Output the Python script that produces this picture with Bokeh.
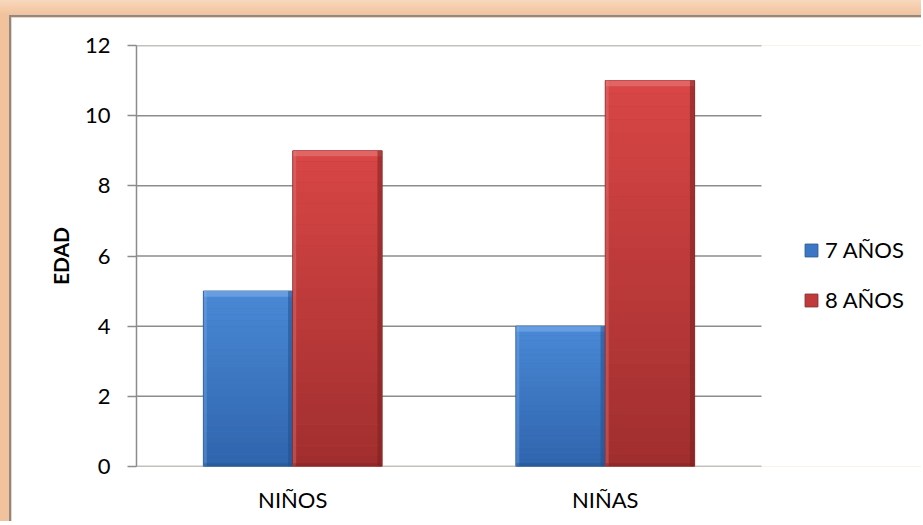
from bokeh.plotting import figure
from bokeh.layouts import column
from bokeh.models import (Range1d, FixedTicker, Legend, LegendItem, ColumnDataSource)
from bokeh.embed import file_html
from bokeh.resources import INLINE

# ---- data ----
categories = ["NIÑOS", "NIÑAS"]
series_names = ["7 AÑOS", "8 AÑOS"]
edad_7 = [5, 4]
edad_8 = [9, 11]
y_ticks = [0, 2, 4, 6, 8, 10, 12]
y_label = "EDAD"

FONT = "Lato"
GRID = "#8c8c8c"

FIG_W, FIG_H = 912, 506
LEFT, TOP = 125, 28
FRAME_H = 421
BOTTOM = FIG_H - TOP - FRAME_H
CAT_PX = 312.5                      # pixel width of one category slot
x_end = (FIG_W - LEFT) / CAT_PX      # frame extends to the right edge (legend area)

cat_pos = [i + 0.5 for i in range(len(categories))]

p = figure(x_range=Range1d(0, x_end), y_range=Range1d(0, 12),
           width=FIG_W, height=FIG_H,
           output_backend="svg", toolbar_location=None,
           min_border_left=LEFT, min_border_right=0,
           min_border_top=TOP, min_border_bottom=BOTTOM)
p.outline_line_color = None
p.background_fill_color = "#ffffff"
p.border_fill_color = "#ffffff"
p.styles = {"border-top": "2px solid #8a8a8a", "border-left": "2px solid #8a8a8a"}

# grid lines drawn only across the category area
p.xgrid.visible = False
p.ygrid.visible = False
p.segment(x0=[0] * len(y_ticks), x1=[len(categories)] * len(y_ticks),
          y0=y_ticks, y1=y_ticks, line_color=GRID, line_width=1.5)

# y axis
p.yaxis.ticker = FixedTicker(ticks=y_ticks)
p.yaxis.axis_line_color = GRID
p.yaxis.axis_line_width = 1.5
p.yaxis.major_tick_line_color = GRID
p.yaxis.major_tick_line_width = 1.5
p.yaxis.major_tick_out = 9
p.yaxis.major_tick_in = 0
p.yaxis.minor_tick_line_color = None
p.yaxis.major_label_text_font = FONT
p.yaxis.major_label_text_font_size = "22px"
p.yaxis.major_label_text_color = "black"
p.yaxis.major_label_standoff = 17
p.yaxis.axis_label = y_label
p.yaxis.axis_label_text_font = FONT
p.yaxis.axis_label_text_font_size = "21px"
p.yaxis.axis_label_text_font_style = "bold"
p.yaxis.axis_label_text_color = "black"
p.yaxis.axis_label_standoff = 9

# x axis (category labels)
p.xaxis.ticker = FixedTicker(ticks=cat_pos)
p.xaxis.major_label_overrides = {pos: c for pos, c in zip(cat_pos, categories)}
p.xaxis.axis_line_color = None
p.xaxis.major_tick_line_color = None
p.xaxis.minor_tick_line_color = None
p.xaxis.major_tick_out = 0
p.xaxis.major_tick_in = 0
p.xaxis.major_label_text_font = FONT
p.xaxis.major_label_text_font_size = "22px"
p.xaxis.major_label_text_color = "black"
p.xaxis.major_label_standoff = 19

W = 0.286
OFF = 0.143


def hex2rgb(h):
    h = h.lstrip("#")
    return tuple(int(h[i:i + 2], 16) for i in (0, 2, 4))


def mix(c0, c1, t):
    a, b = hex2rgb(c0), hex2rgb(c1)
    return "#%02x%02x%02x" % tuple(round(a[i] + (b[i] - a[i]) * t) for i in range(3))


styles = [
    dict(vals=edad_7, off=-OFF, top_c="#4a89d6", bot_c="#2f64ac", mid="#3b77c4",
         light="#7fb0ec", dark="#244f8a", edge="#2a5a98"),
    dict(vals=edad_8, off=OFF, top_c="#d94646", bot_c="#a02e2e", mid="#c03b3b",
         light="#e98080", dark="#7c2121", edge="#8e2a2a"),
]

NB = 30
legend_items = []
for s, name in zip(styles, series_names):
    vals = s["vals"]
    xc = [c + s["off"] for c in cat_pos]
    base_src = ColumnDataSource(dict(x=xc, top=vals))
    r = p.vbar(x="x", top="top", width=W, source=base_src,
               fill_color=s["mid"], line_color=s["edge"], line_width=1)
    legend_items.append(LegendItem(label=name, renderers=[r]))
    # vertical gradient bands
    xs, bots, tops, cols = [], [], [], []
    for x, v in zip(xc, vals):
        for k in range(NB):
            xs.append(x)
            bots.append(v * k / NB)
            tops.append(v * (k + 1) / NB)
            cols.append(mix(s["bot_c"], s["top_c"], (k + 0.5) / NB))
    gsrc = ColumnDataSource(dict(x=xs, bottom=bots, top=tops, color=cols))
    p.vbar(x="x", bottom="bottom", top="top", width=W - 0.004, source=gsrc,
           fill_color="color", line_color=None)
    # bevel: top highlight
    tsrc = ColumnDataSource(dict(x=xc, top=vals, bottom=[v - 0.16 for v in vals]))
    p.vbar(x="x", bottom="bottom", top="top", width=W - 0.004, source=tsrc,
           fill_color=s["light"], fill_alpha=0.55, line_color=None)
    # right shade
    rsrc = ColumnDataSource(dict(x=[x + W / 2 - 0.008 for x in xc], top=vals))
    p.vbar(x="x", top="top", width=0.014, source=rsrc,
           fill_color=s["dark"], fill_alpha=0.55, line_color=None)
    # left highlight
    lsrc = ColumnDataSource(dict(x=[x - W / 2 + 0.006 for x in xc], top=vals))
    p.vbar(x="x", top="top", width=0.01, source=lsrc,
           fill_color=s["light"], fill_alpha=0.35, line_color=None)
    # bottom shade
    bsrc = ColumnDataSource(dict(x=xc, top=[0.09] * len(xc)))
    p.vbar(x="x", top="top", width=W - 0.004, source=bsrc,
           fill_color=s["dark"], fill_alpha=0.45, line_color=None)

legend = Legend(items=legend_items, location=(667, 153), padding=0, spacing=23,
                glyph_width=16, glyph_height=16, label_height=26, label_standoff=6,
                label_text_font=FONT, label_text_font_size="22px",
                label_text_color="black", border_line_color=None,
                background_fill_alpha=0, margin=0)
p.add_layout(legend)

layout = column(p, styles={
    "background": "linear-gradient(to bottom, #f8d8bd 0px, #f2c29c 15px, #f2c29c 100%)",
    "padding": "15px 0px 0px 9px",
})

open("out.html", "w").write(file_html(layout, INLINE))
